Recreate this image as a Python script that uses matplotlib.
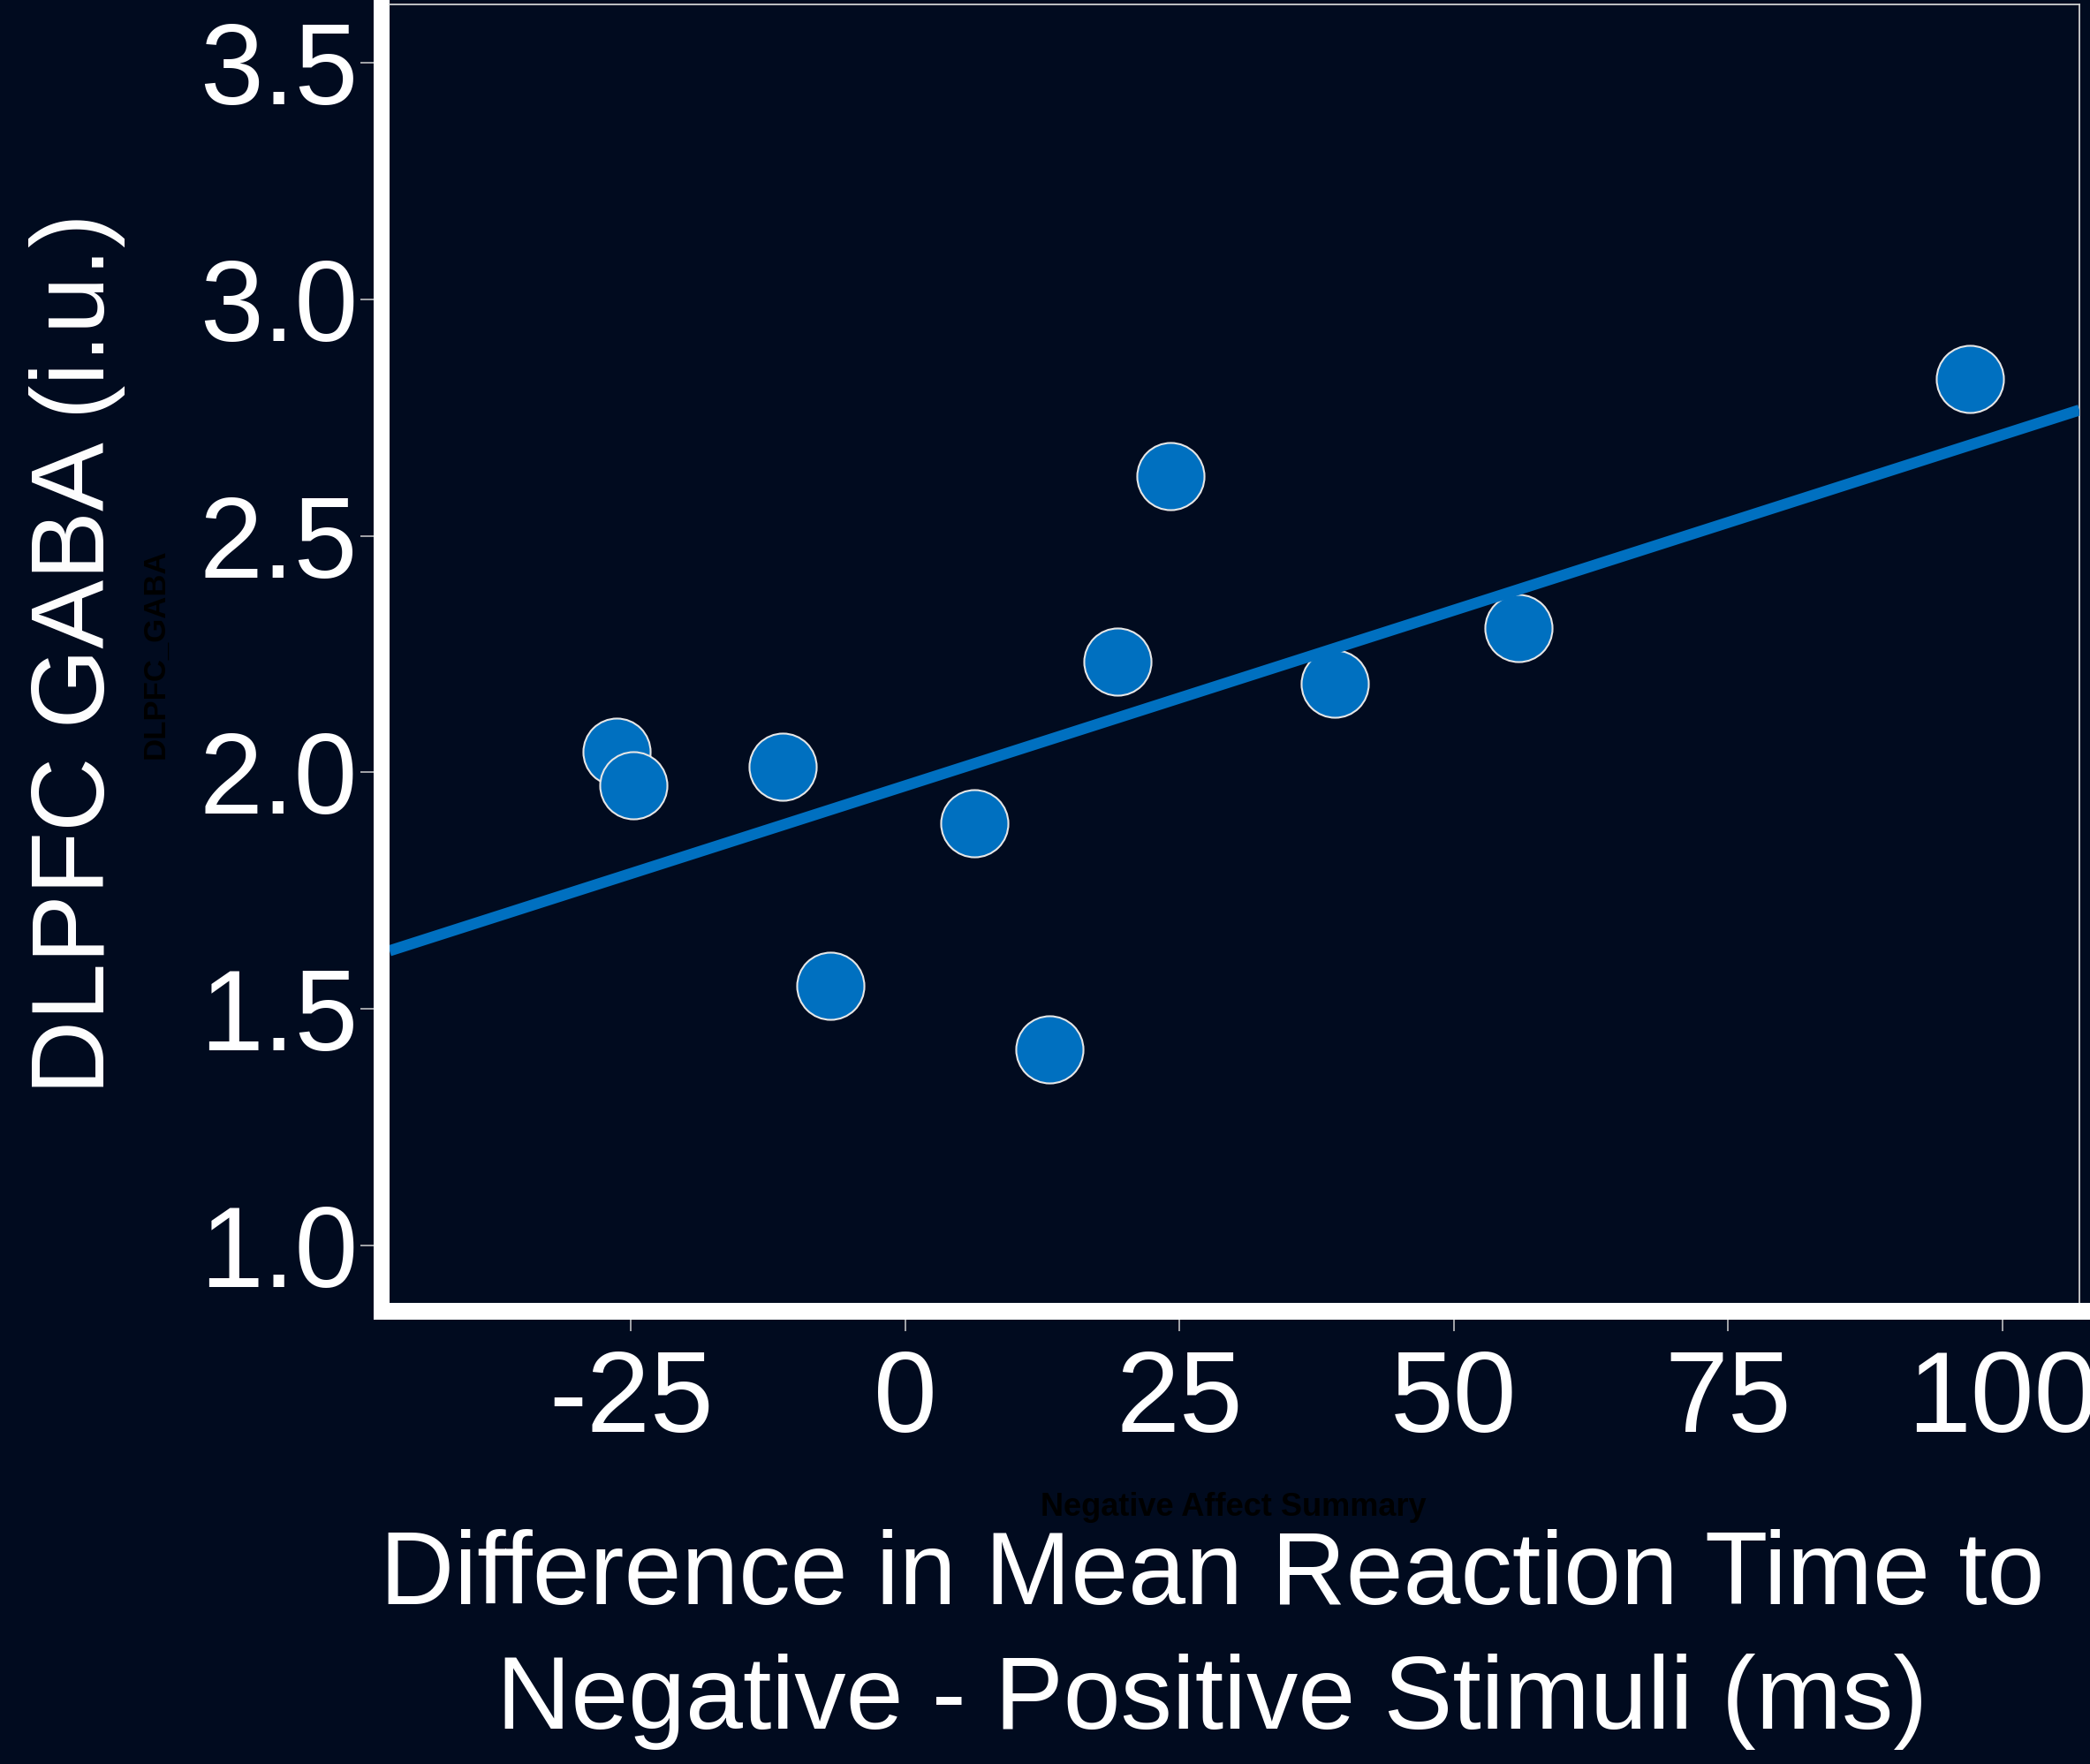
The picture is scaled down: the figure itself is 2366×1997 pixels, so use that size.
import numpy as np
import matplotlib
matplotlib.use("Agg")
import matplotlib.pyplot as plt

# reaction time difference (ms) vs DLPFC GABA (i.u.)
rt_diff = [-26.3, -24.8, -11.2, -6.8, 6.3, 13.1, 19.3, 24.2, 39.1, 55.9, 97.0]
gaba = [2.044, 1.972, 2.013, 1.549, 1.893, 1.414, 2.234, 2.627, 2.187, 2.305, 2.831]

x_ticks = [-25, 0, 25, 50, 75, 100]
x_ticklabels = ['-25', '0', '25', '50', '75', '100']
y_ticks = [1.0, 1.5, 2.0, 2.5, 3.0, 3.5]
y_ticklabels = ['1.0', '1.5', '2.0', '2.5', '3.0', '3.5']

bg = '#010b1f'
blue = '#0070c0'
W, H = 2366, 1997

plt.rcParams['font.family'] = ['Liberation Sans', 'DejaVu Sans']

fig = plt.figure(figsize=(W / 100, H / 100), dpi=100)
fig.patch.set_facecolor(bg)

# panel in pixel coords: x 441..2354, y 5..1475 (from top)
ax = fig.add_axes([441 / W, 1 - 1475 / H, (2354 - 441) / W, (1475 - 5) / H])
ax.set_facecolor(bg)

xlim = (-47.0, 107.0)
ylim = (0.879, 3.623)
ax.set_xlim(xlim)
ax.set_ylim(ylim)

ax.scatter(rt_diff, gaba, s=3000, c=blue, edgecolors='#e6e6e6', linewidths=1.5, zorder=3)

slope, icpt = np.polyfit(rt_diff, gaba, 1)
xx = np.array(xlim)
ax.plot(xx, slope * xx + icpt, color=blue, lw=9, solid_capstyle='butt', zorder=4)

# frame: thin light border top/right, thick white axis lines outside on left/bottom
for s in ['top', 'right']:
    ax.spines[s].set_color('#d0d0d0')
    ax.spines[s].set_linewidth(1.3)
ax.spines['left'].set_position(('outward', 6.5))
ax.spines['left'].set_linewidth(13)
ax.spines['left'].set_color('white')
ax.spines['left'].set_capstyle('butt')
ax.spines['left'].set_bounds(ylim[0] - 19 / 535.6, ylim[1] + 0.1)
ax.spines['bottom'].set_position(('outward', 6.8))
ax.spines['bottom'].set_linewidth(13.7)
ax.spines['bottom'].set_color('white')
ax.spines['bottom'].set_capstyle('butt')
ax.spines['bottom'].set_bounds(xlim[0] - 18 / 12.424, xlim[1] + 5)

ax.set_xticks(x_ticks)
ax.set_xticklabels(x_ticklabels)
ax.set_yticks(y_ticks)
ax.set_yticklabels(y_ticklabels)
ax.tick_params(axis='both', colors='#d0d0d0', labelcolor='white', width=1.1, labelsize=93, direction='out')
ax.tick_params(axis='y', length=17.3, pad=2)
ax.tick_params(axis='x', length=16.9, pad=14)

# axis titles
fig.text(88 / W, 1 - 740 / H, 'DLPFC GABA (i.u.)', rotation=90, ha='center', va='center',
         color='white', fontsize=84)
fig.text(1372 / W, 1 - 1816 / H, 'Difference in Mean Reaction Time to', ha='center', va='baseline',
         color='white', fontsize=84)
fig.text(1372 / W, 1 - 1957 / H, 'Negative - Positive Stimuli (ms)', ha='center', va='baseline',
         color='white', fontsize=84)

# leftover default labels, drawn in black
fig.text(176 / W, 1 - 740 / H, 'DLPFC_GABA', rotation=90, ha='center', va='center',
         color='black', fontsize=25, fontweight='bold')
fig.text(1396 / W, 1 - 1707 / H, 'Negative Affect Summary', ha='center', va='center',
         color='black', fontsize=26, fontweight='bold')

fig.savefig('out.png', dpi=100, facecolor=bg)
